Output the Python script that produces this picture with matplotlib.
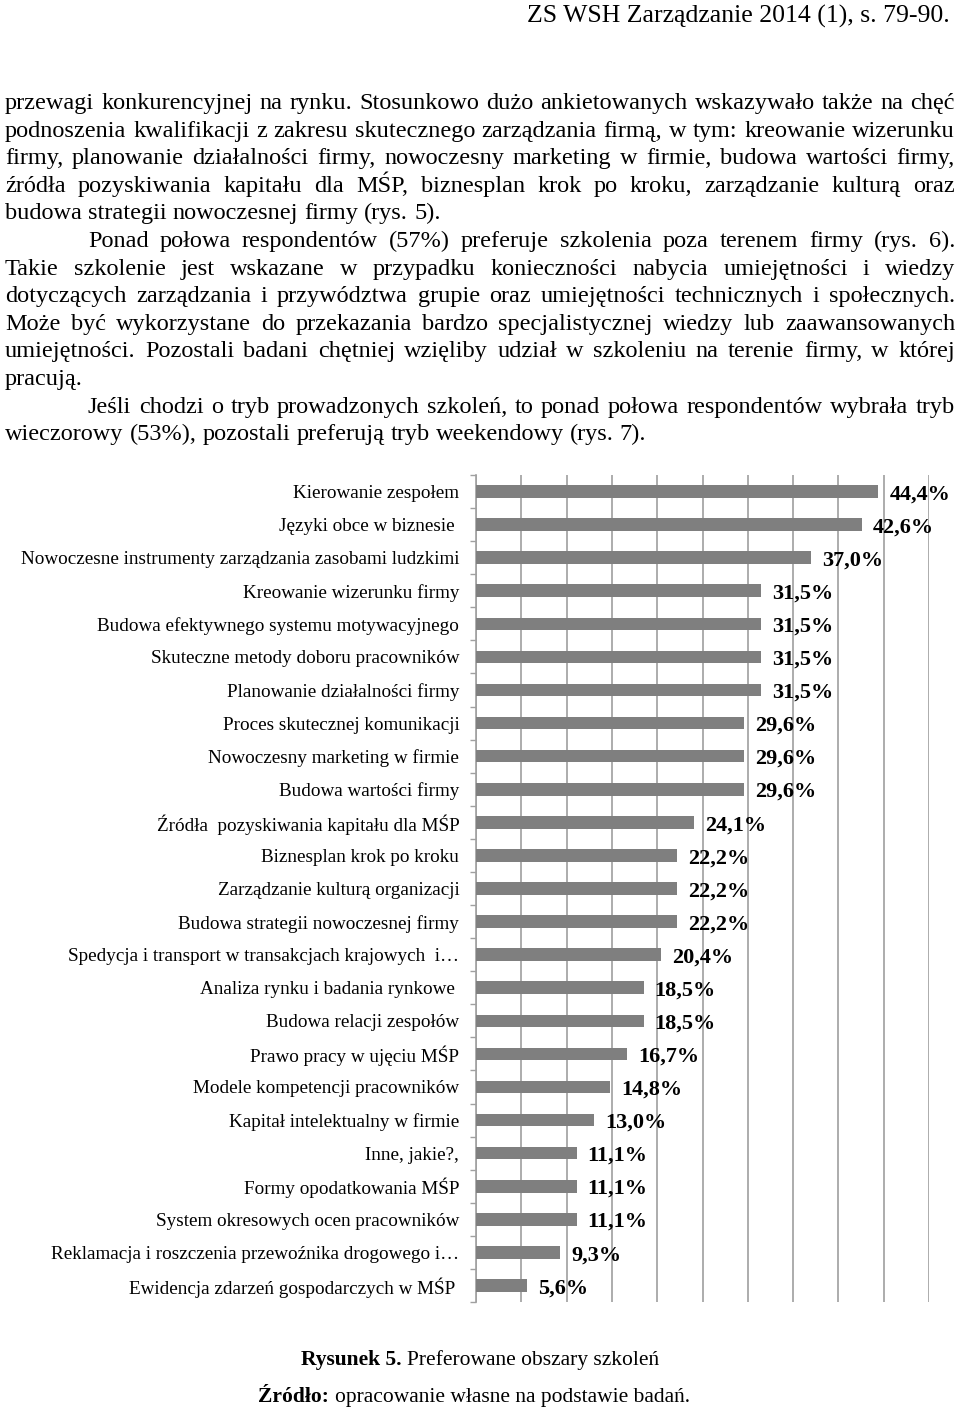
import numpy as np
import matplotlib
matplotlib.use("Agg")
from matplotlib import pyplot as plt
from matplotlib.transforms import IdentityTransform

categories = [
    "Kierowanie zespołem",
    "Języki obce w biznesie ",
    "Nowoczesne instrumenty zarządzania zasobami ludzkimi",
    "Kreowanie wizerunku firmy",
    "Budowa efektywnego systemu motywacyjnego",
    "Skuteczne metody doboru pracowników",
    "Planowanie działalności firmy",
    "Proces skutecznej komunikacji",
    "Nowoczesny marketing w firmie",
    "Budowa wartości firmy",
    "Źródła  pozyskiwania kapitału dla MŚP",
    "Biznesplan krok po kroku",
    "Zarządzanie kulturą organizacji",
    "Budowa strategii nowoczesnej firmy",
    "Spedycja i transport w transakcjach krajowych  i…",
    "Analiza rynku i badania rynkowe ",
    "Budowa relacji zespołów",
    "Prawo pracy w ujęciu MŚP",
    "Modele kompetencji pracowników",
    "Kapitał intelektualny w firmie",
    "Inne, jakie?,",
    "Formy opodatkowania MŚP",
    "System okresowych ocen pracowników",
    "Reklamacja i roszczenia przewoźnika drogowego i…",
    "Ewidencja zdarzeń gospodarczych w MŚP ",
]
values = [44.4, 42.6, 37.0, 31.5, 31.5, 31.5, 31.5, 29.6, 29.6, 29.6,
          24.1, 22.2, 22.2, 22.2, 20.4, 18.5, 18.5, 16.7, 14.8, 13.0,
          11.1, 11.1, 11.1, 9.3, 5.6]

header = "ZS WSH Zarządzanie 2014 (1), s. 79-90."
# (text, indent, justified)
body_lines = [
    ("przewagi konkurencyjnej na rynku. Stosunkowo dużo ankietowanych wskazywało także na chęć", False, True),
    ("podnoszenia kwalifikacji z zakresu skutecznego zarządzania firmą, w tym: kreowanie wizerunku", False, True),
    ("firmy, planowanie działalności firmy, nowoczesny marketing w firmie, budowa wartości firmy,", False, True),
    ("źródła pozyskiwania kapitału dla MŚP, biznesplan krok po kroku, zarządzanie kulturą oraz", False, True),
    ("budowa strategii nowoczesnej firmy (rys. 5).", False, False),
    ("Ponad połowa respondentów (57%) preferuje szkolenia poza terenem firmy (rys. 6).", True, True),
    ("Takie szkolenie jest wskazane w przypadku konieczności nabycia umiejętności i wiedzy", False, True),
    ("dotyczących zarządzania i przywództwa grupie oraz umiejętności technicznych i społecznych.", False, True),
    ("Może być wykorzystane do przekazania bardzo specjalistycznej wiedzy lub zaawansowanych", False, True),
    ("umiejętności. Pozostali badani chętniej wzięliby udział w szkoleniu na terenie firmy, w której", False, True),
    ("pracują.", False, False),
    ("Jeśli chodzi o tryb prowadzonych szkoleń, to ponad połowa respondentów wybrała tryb", True, True),
    ("wieczorowy (53%), pozostali preferują tryb weekendowy (rys. 7).", False, False),
]
caption = ("Rysunek 5.", "Preferowane obszary szkoleń")
source = ("Źródło:", "opracowanie własne na podstawie badań.")

W, H = 960, 1408
SERIF = "Liberation Serif"

fig = plt.figure(figsize=(W / 100, H / 100), dpi=100)
fig.patch.set_facecolor("white")
renderer = fig.canvas.get_renderer()
ident = IdentityTransform()


def put(x, y, s, size, weight="normal", ha="left"):
    return fig.text(x, H - y, s, fontsize=size, family=SERIF, fontweight=weight,
                    ha=ha, va="baseline", transform=ident, color="black")


def width(t):
    return t.get_window_extent(renderer).width


def natural_widths(words, size):
    ws = []
    for w in words:
        t = put(0, 0, w, size)
        ws.append(width(t))
        t.remove()
    return ws


# pick a body size that lets every justified line fit
x0, x1 = 5, 955
indent = 88
size = 17.5
while size > 12:
    ok = True
    for text, ind, just in body_lines:
        if not just:
            continue
        words = text.split()
        avail = x1 - (indent if ind else x0)
        gap = (avail - sum(natural_widths(words, size))) / (len(words) - 1)
        if gap < 0.17 * size * 100 / 72:
            ok = False
            break
    if ok:
        break
    size -= 0.25

put(950, 23, header, 18.5, ha="right")

for i, (text, ind, just) in enumerate(body_lines):
    y = 109 + i * 27.6
    start = indent if ind else x0
    words = text.split()
    ws = natural_widths(words, size)
    if just:
        gap = (x1 - start - sum(ws)) / (len(words) - 1)
    else:
        gap = 0.25 * size * 100 / 72
    x = start
    for w, wd in zip(words, ws):
        put(x, y, w, size)
        x += wd + gap


def two_part(y, bold, rest, center, sz):
    tb = put(0, y, bold, sz, weight="bold")
    tr = put(0, y, rest, sz)
    sp = 0.25 * sz * 100 / 72
    total = width(tb) + sp + width(tr)
    left = center - total / 2
    tb.set_x(left)
    tr.set_x(left + width(tb) + sp)


two_part(1365, caption[0], caption[1], 480, 15.5)
two_part(1402, source[0], source[1], 474, 15.5)

# chart
ax = fig.add_axes([476 / W, 1 - 1302 / H, (929 - 476) / W, (1302 - 475) / H])
y = np.arange(len(categories))
ax.barh(y, values, height=0.38, color="#7f7f7f", zorder=3)
ax.set_xlim(0, 50)
ax.set_ylim(len(categories) - 0.5, -0.5)
ax.set_xticks(np.arange(0, 51, 5))
ax.xaxis.grid(True, color="#a6a6a6", linewidth=1.3, zorder=0)
ax.tick_params(axis="x", length=0, labelbottom=False)
ax.set_yticks(y)
ax.set_yticklabels(categories, family=SERIF, fontsize=13.8)
ax.tick_params(axis="y", which="major", length=0, pad=12)
ax.set_yticks(np.arange(-0.5, len(categories), 1), minor=True)
ax.tick_params(axis="y", which="minor", length=4, width=1, color="#a0a0a0", direction="out")
for side in ["top", "right", "bottom"]:
    ax.spines[side].set_visible(False)
ax.spines["left"].set_color("#a0a0a0")
ax.spines["left"].set_linewidth(1.2)
ax.set_facecolor("none")

for yi, v in zip(y, values):
    ax.annotate(f"{v:.1f}".replace(".", ",") + "%", (v, yi), xytext=(8, -2),
                textcoords="offset points", va="center", ha="left",
                family=SERIF, fontweight="bold", fontsize=16, annotation_clip=False)

fig.savefig("out.png", dpi=100)
